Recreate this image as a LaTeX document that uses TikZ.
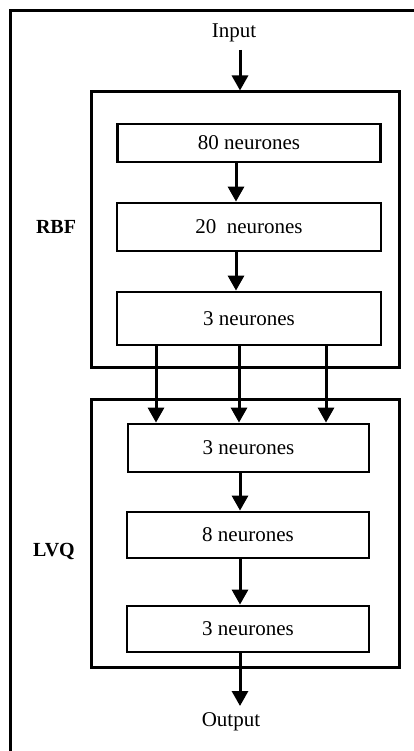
\documentclass[tikz,border=0pt]{standalone}
\usepackage{fontspec}
\setmainfont{Liberation Serif}
\usetikzlibrary{arrows.meta}
\begin{document}
\begin{tikzpicture}[x=1pt,y=-1pt,
  frame/.style={line width=3pt},
  box/.style={draw,line width=2.8pt,rectangle,inner sep=0pt,fill=white,font=\fontsize{21}{24}\selectfont},
  group/.style={draw,line width=3pt,rectangle,inner sep=0pt},
  lbl/.style={font=\fontsize{21}{24}\selectfont},
  blbl/.style={font=\fontsize{20}{24}\selectfont\bfseries},
  arr/.style={line width=3pt,-{Triangle[length=15pt,width=16pt]}}]
\useasboundingbox (0,0) rectangle (414,751);
\fill[white] (0,0) rectangle (414,751);
% outer frame (continues beyond the picture)
\draw[frame] (10,751) -- (10,11) -- (414,11);
% groups
\node[group,minimum width=308pt,minimum height=275pt] (rbf) at (245,229.5) {};
\node[group,minimum width=308pt,minimum height=268pt] (lvq) at (245,533) {};
% boxes
\node[box,minimum width=263pt,minimum height=38pt] (n80) at (249,143) {80 neurones};
\node[box,minimum width=264pt,minimum height=48pt] (n20) at (249,227) {20\ \ neurones};
\node[box,minimum width=264pt,minimum height=53pt] (n3a) at (249,318.5) {3 neurones};
\node[box,minimum width=241pt,minimum height=48pt] (n3b) at (248.5,448) {3 neurones};
\node[box,minimum width=242pt,minimum height=46pt] (n8) at (248,535) {8 neurones};
\node[box,minimum width=242pt,minimum height=46pt] (n3c) at (248,629) {3 neurones};
% labels
\node[lbl] (in) at (234,33) {Input};
\node[lbl] (out) at (231,722) {Output};
\node[blbl] (rbflbl) at (56,227) {RBF};
\node[blbl] (lvqlbl) at (54,551) {LVQ};
% connectors
\coordinate (inend) at (240,50);
\coordinate (outend) at (240,706);
\draw[arr] (inend) -- (rbf.north -| inend);
\draw[arr] (n80.south -| 236,0) -- (n20.north -| 236,0);
\draw[arr] (n20.south -| 236,0) -- (n3a.north -| 236,0);
\draw[arr] (n3a.south -| 156,0) -- (n3b.north -| 156,0);
\draw[arr] (n3a.south -| 239,0) -- (n3b.north -| 239,0);
\draw[arr] (n3a.south -| 326,0) -- (n3b.north -| 326,0);
\draw[arr] (n3b.south -| 240,0) -- (n8.north -| 240,0);
\draw[arr] (n8.south -| 240,0) -- (n3c.north -| 240,0);
\draw[arr] (n3c.south -| 240,0) -- (outend);
\end{tikzpicture}
\end{document}
